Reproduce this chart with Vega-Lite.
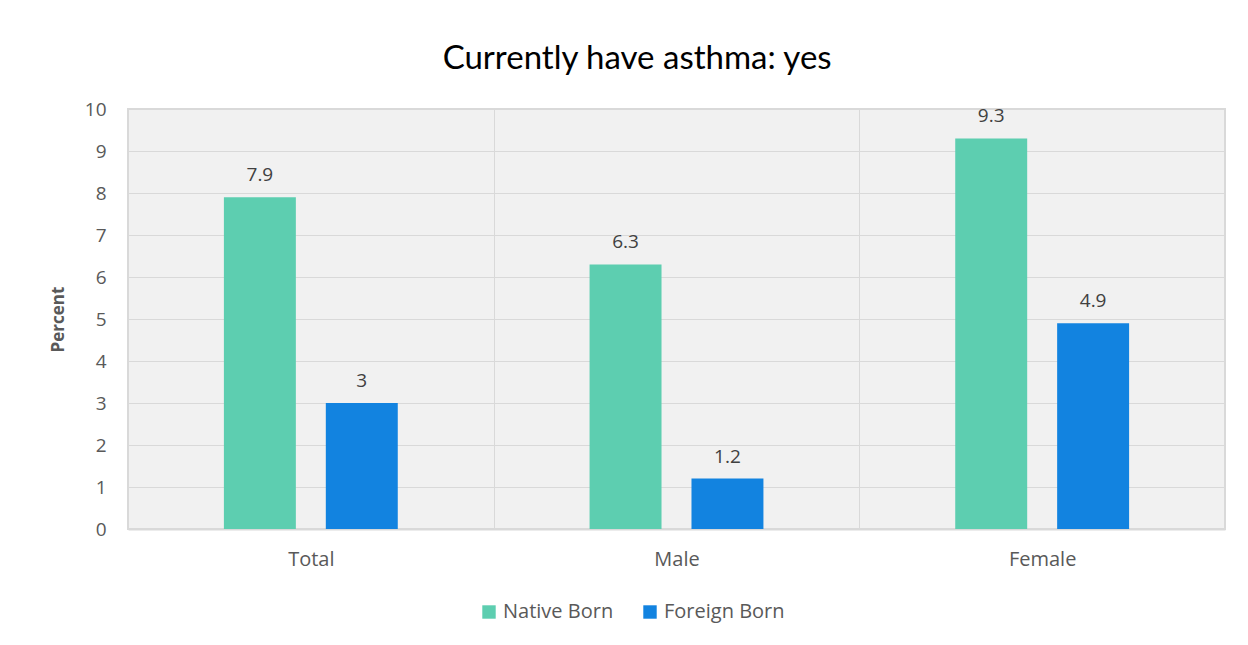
{
  "$schema": "https://vega.github.io/schema/vega-lite/v6.json",
  "width": 1097,
  "height": 420,
  "autosize": {"type": "pad"},
  "padding": {"left": 49, "top": 43, "right": 20, "bottom": 5},
  "background": "white",
  "title": {
    "text": "Currently have asthma: yes",
    "font": "Lato",
    "fontSize": 33,
    "fontWeight": "normal",
    "color": "#000000",
    "anchor": "middle",
    "frame": "bounds",
    "offset": 24
  },
  "config": {
    "view": {"fill": "#f1f1f1", "stroke": "#d9d9d9", "strokeWidth": 2},
    "axis": {"labelFont": "Open Sans", "titleFont": "Open Sans"}
  },
  "data": {
    "values": [
      {"group": "Total", "birth": "Native Born", "percent": 7.9},
      {"group": "Total", "birth": "Foreign Born", "percent": 3},
      {"group": "Male", "birth": "Native Born", "percent": 6.3},
      {"group": "Male", "birth": "Foreign Born", "percent": 1.2},
      {"group": "Female", "birth": "Native Born", "percent": 9.3},
      {"group": "Female", "birth": "Foreign Born", "percent": 4.9}
    ]
  },
  "encoding": {
    "x": {
      "field": "group",
      "type": "nominal",
      "sort": ["Total", "Male", "Female"],
      "scale": {"paddingInner": 0, "paddingOuter": 0},
      "axis": {
        "title": null,
        "labelAngle": 0,
        "labelFontSize": 20,
        "labelColor": "#595959",
        "labelPadding": 20,
        "ticks": false,
        "tickBand": "extent",
        "grid": true,
        "gridColor": "#d9d9d9",
        "gridWidth": 1,
        "domainColor": "#d9d9d9",
        "domainWidth": 2
      }
    },
    "xOffset": {
      "field": "birth",
      "type": "nominal",
      "sort": ["Native Born", "Foreign Born"],
      "scale": {"paddingInner": 0.294, "paddingOuter": 0.941}
    },
    "y": {
      "field": "percent",
      "type": "quantitative",
      "scale": {"domain": [0, 10], "nice": false},
      "axis": {
        "title": "Percent",
        "titleFontSize": 17,
        "titleFontWeight": "bold",
        "titleColor": "#595959",
        "titlePadding": 17,
        "values": [0, 1, 2, 3, 4, 5, 6, 7, 8, 9, 10],
        "labelFontSize": 19,
        "labelColor": "#595959",
        "labelPadding": 22,
        "ticks": false,
        "domain": false,
        "gridColor": "#d9d9d9",
        "gridWidth": 1
      }
    }
  },
  "layer": [
    {
      "mark": {"type": "bar"},
      "encoding": {
        "color": {
          "field": "birth",
          "type": "nominal",
          "sort": ["Native Born", "Foreign Born"],
          "scale": {"domain": ["Native Born", "Foreign Born"], "range": ["#5dceb0", "#1283e0"]},
          "legend": {
            "title": null,
            "orient": "none",
            "legendX": 351,
            "legendY": 493,
            "direction": "horizontal",
            "symbolType": "square",
            "symbolSize": 180,
            "symbolStrokeWidth": 0,
            "labelFont": "Open Sans",
            "labelFontSize": 20,
            "labelColor": "#595959",
            "columnPadding": 26
          }
        }
      }
    },
    {
      "mark": {
        "type": "text",
        "baseline": "bottom",
        "dy": -12,
        "font": "Open Sans",
        "fontSize": 19,
        "color": "#404040"
      },
      "encoding": {"text": {"field": "percent", "type": "quantitative"}}
    }
  ]
}
